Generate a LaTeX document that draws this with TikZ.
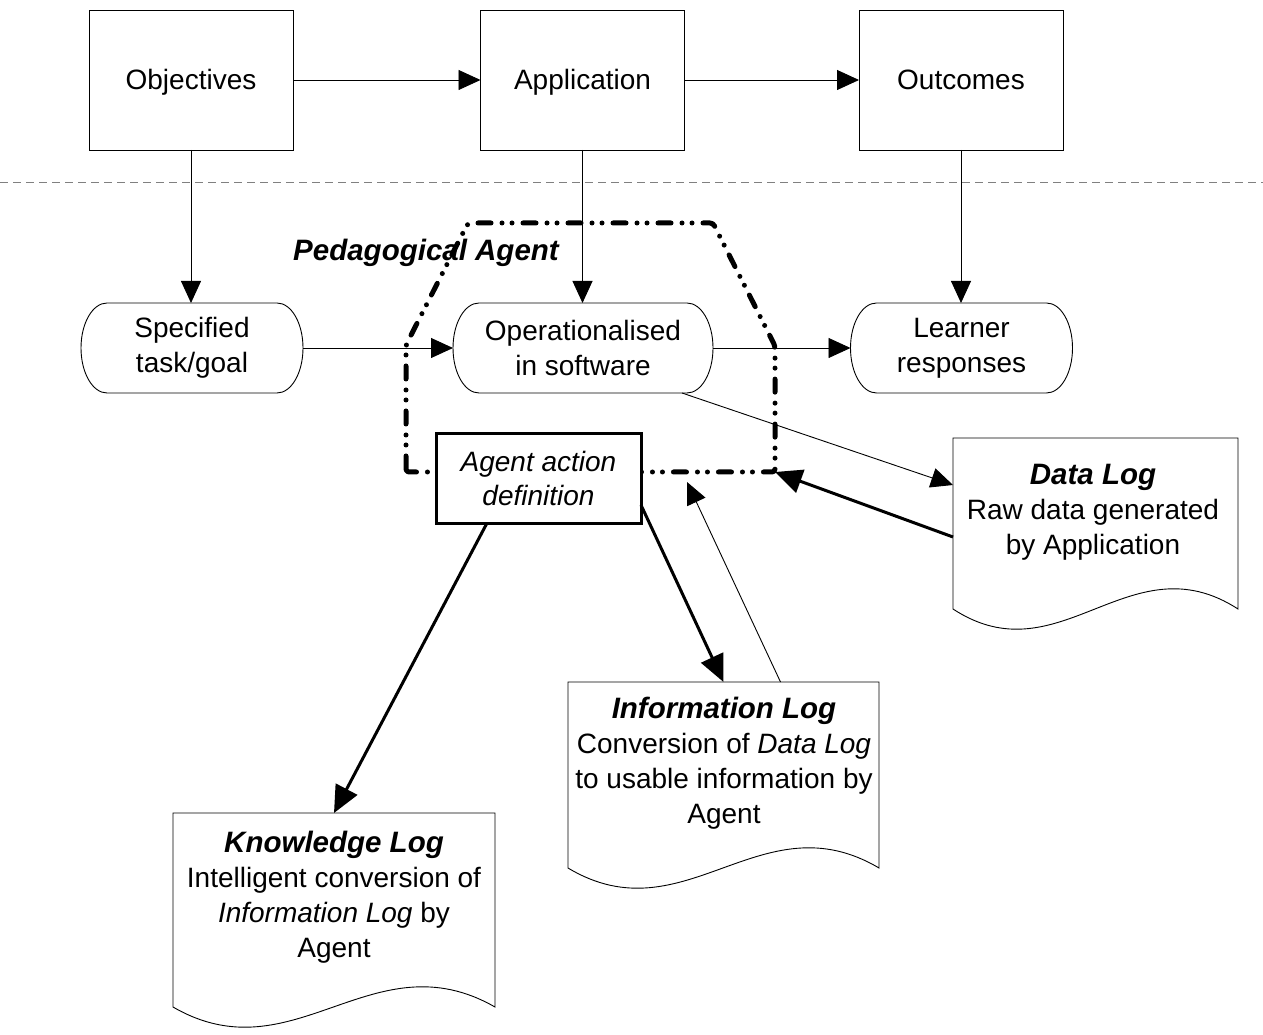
\documentclass[tikz,border=0pt]{standalone}
\usepackage{fontspec}
\setmainfont{Liberation Sans}
\usetikzlibrary{arrows.meta,calc}

\newcommand\stadoutline[1]{%
  \draw[line width=0.9pt]
   ([xshift=26pt]#1.north west) -- ([xshift=-26pt]#1.north east)
   .. controls ([xshift=-11.6pt]#1.north east) and ([yshift=24.8pt]#1.east) .. (#1.east)
   .. controls ([yshift=-24.8pt]#1.east) and ([xshift=-11.6pt]#1.south east) .. ([xshift=-26pt]#1.south east)
   -- ([xshift=26pt]#1.south west)
   .. controls ([xshift=11.6pt]#1.south west) and ([yshift=-24.8pt]#1.west) .. (#1.west)
   .. controls ([yshift=24.8pt]#1.west) and ([xshift=11.6pt]#1.north west) .. cycle;}

\newcommand\docoutline[1]{%
  \draw[line width=0.9pt]
   (#1.north west) -- (#1.north east) -- (#1.south east)
   .. controls ($(#1.south west)!0.62!(#1.south east)+(0,70)$) and
               ($(#1.south west)!0.375!(#1.south east)+(0,-70)$) .. (#1.south west)
   -- cycle;}

\tikzset{
  txt/.style={font=\fontsize{28}{35}\selectfont, align=center},
  box/.style={txt, draw, line width=0.9pt, minimum width=204pt, minimum height=140pt,
     outer sep=0pt, inner sep=0pt, text height=24pt, text depth=4pt},
  stad/.style={txt, minimum height=90pt, outer sep=0pt, inner sep=0pt},
  docnode/.style={outer sep=0pt, inner sep=0pt},
  thinarrow/.style={line width=0.9pt, -{Triangle[length=22pt,width=20pt]}},
  thickarrow/.style={line width=3pt, -{Triangle[length=27pt,width=24pt]}},
  agentline/.style={line width=5pt, line cap=round, line join=round,
     dash pattern=on 13pt off 11pt on 0pt off 10pt on 0pt off 11pt},
  sepline/.style={gray, line width=1pt, dash pattern=on 8pt off 5pt},
  headtxt/.style={font=\fontsize{29.5}{35}\selectfont\bfseries\itshape},
}

\begin{document}
\begin{tikzpicture}[x=1pt,y=1pt]
\useasboundingbox[fill=white] (0,0) rectangle (1263,1034);

% top row
\node[box] (obj) at (191,954) {Objectives};
\node[box] (app) at (582.5,954) {Application};
\node[box] (out) at (961,954) {Outcomes};

% separator
\coordinate (sepL) at (0,851);
\coordinate (sepR) at (1263,851);
\draw[sepline] (sepL) -- (sepR);

% pedagogical agent boundary
\coordinate (pbl) at (406,562);
\coordinate (pl) at (406,689);
\coordinate (ptl) at (468,811);
\coordinate (ptr) at (713,811);
\coordinate (pr) at (775,688);
\coordinate (pbr) at (775,562);
\draw[agentline, rounded corners=3pt] (pbl) -- (pl) -- (ptl) -- (ptr) -- (pr) -- (pbr) -- cycle;

\node[headtxt] (pedlabel) at (426,781) {Pedagogical Agent};

% stadium row
\node[stad, minimum width=222pt] (spec) at (192,686) {Specified\\task/goal};
\stadoutline{spec}
\node[stad, minimum width=260pt] (oper) at (583,686) {Operationalised\\in software};
\stadoutline{oper}
\node[stad, minimum width=222pt] (learn) at (961.5,686) {Learner\\responses};
\stadoutline{learn}

% agent action box
\node[txt, draw, fill=white, line width=3pt, minimum width=205pt, minimum height=90pt,
      outer sep=0pt, inner sep=0pt, font=\fontsize{28}{34}\selectfont\itshape] (agent) at (538.5,555)
      {Agent action\\definition};

% documents
\node[docnode, minimum width=285pt, minimum height=171pt] (datalog) at (1095.5,510.5) {};
\docoutline{datalog}
\node[txt] (datatxt) at (1093,521.5) {{\fontsize{29.5}{35}\selectfont\bfseries\itshape Data Log}\\Raw data generated\\by Application};

\node[docnode, minimum width=311pt, minimum height=186pt] (info) at (723.5,259) {};
\docoutline{info}
\node[txt] (infotxt) at (724,271) {{\fontsize{29.5}{35}\selectfont\bfseries\itshape Information Log}\\Conversion of \textit{Data Log}\\to usable information by\\Agent};

\node[docnode, minimum width=322pt, minimum height=194pt] (know) at (334,124) {};
\docoutline{know}
\node[txt] (knowtxt) at (334,136.5) {{\fontsize{29.5}{35}\selectfont\bfseries\itshape Knowledge Log}\\Intelligent conversion of\\\textit{Information Log} by\\Agent};

% connectors
\draw[thinarrow] (obj.east) -- (app.west);
\draw[thinarrow] (app.east) -- (out.west);
\draw[thinarrow] (obj.south) -- (obj.south |- spec.north);
\draw[thinarrow] (app.south) -- (app.south |- oper.north);
\draw[thinarrow] (out.south) -- (out.south |- learn.north);
\draw[thinarrow] (spec.east) -- (oper.west);
\draw[thinarrow] (oper.east) -- (learn.west);
\draw[thinarrow] ([xshift=-31pt]oper.south east) -- ([yshift=-47pt]datalog.north west);
\draw[thickarrow] ([yshift=-99pt]datalog.north west) -- (pbr);
\draw[thickarrow] ([yshift=-26pt]agent.east) -- (info.north);
\coordinate (itip) at (687,552);
\draw[thinarrow] ([xshift=57pt]info.north) -- (itip);
\draw[thickarrow] ([xshift=-52pt]agent.south) -- (know.north);
\end{tikzpicture}
\end{document}
